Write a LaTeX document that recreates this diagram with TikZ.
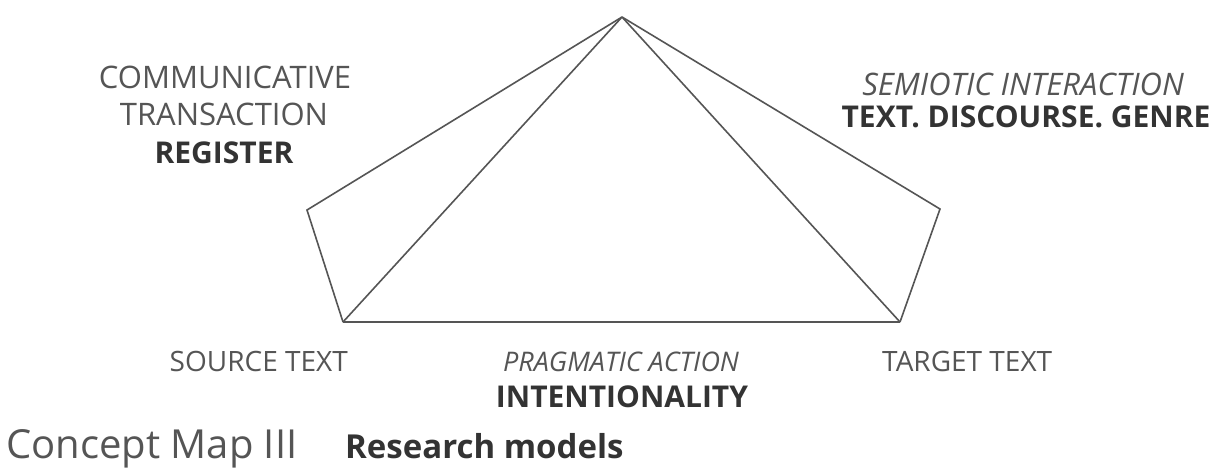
\documentclass[tikz,border=0pt]{standalone}
\usepackage{fontspec}
\setmainfont{Open Sans}
\definecolor{ink}{HTML}{555555}
\definecolor{dark}{HTML}{333333}
\definecolor{edgec}{HTML}{555555}
\begin{document}
\begin{tikzpicture}[x=1pt,y=-1pt,
  edge/.style={draw=edgec, line width=1.6pt, line join=miter},
  lbl/.style={text=ink, inner sep=0pt, anchor=base, font=\fontsize{31}{36}\selectfont},
  blbl/.style={text=dark, inner sep=0pt, anchor=base, font=\fontsize{30}{36}\selectfont\bfseries},
  ilbl/.style={text=ink, inner sep=0pt, anchor=base, font=\fontsize{31}{36}\selectfont\itshape},
  slbl/.style={text=ink, inner sep=0pt, anchor=base, font=\fontsize{28}{34}\selectfont}]
\useasboundingbox[fill=white] (0,0) rectangle (1225,472);
% vertices
\coordinate (apex) at (622,17);
\coordinate (lv) at (307,210);
\coordinate (rv) at (940,209);
\coordinate (src) at (343,322);
\coordinate (tgt) at (900,322);
% connectors
\draw[edge] (apex) -- (lv) -- (src);
\draw[edge] (apex) -- (src);
\draw[edge] (src) -- (tgt);
\draw[edge] (apex) -- (tgt);
\draw[edge] (apex) -- (rv) -- (tgt);
% left labels
\node[lbl]  (comm)  at (225,88)  {COMMUNICATIVE};
\node[lbl]  (trans) at (224,125) {TRANSACTION};
\node[blbl] (reg)   at (224,163) {REGISTER};
% right labels
\node[ilbl] (semi)  at (1023,95)  {SEMIOTIC INTERACTION};
\node[blbl] (tdg)   at (1026,127) {TEXT. DISCOURSE. GENRE};
% bottom labels
\node[slbl, anchor=base east] (srct) at (348,371) {SOURCE TEXT};
\node[slbl, anchor=base west] (tgtt) at (882,371) {TARGET TEXT};
\node[slbl, font=\fontsize{27}{32}\selectfont\itshape] (prag) at (621,371) {PRAGMATIC ACTION};
\node[blbl] (intent) at (622,407) {INTENTIONALITY};
% caption
\node[text=ink, inner sep=0pt, anchor=base west, font=\fontsize{40}{46}\selectfont] (cap) at (6,458) {Concept Map III};
\node[text=dark, inner sep=0pt, anchor=base west, font=\fontsize{33}{38}\selectfont\bfseries] (capb) at (345,458) {Research models};
\end{tikzpicture}
\end{document}
